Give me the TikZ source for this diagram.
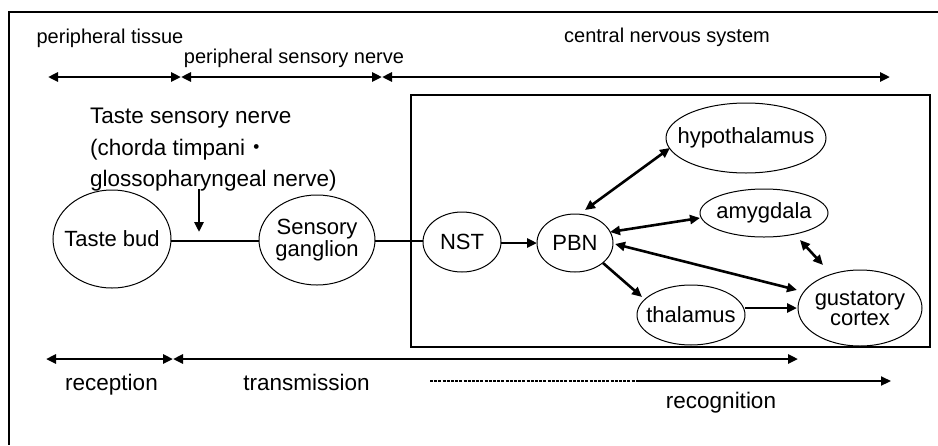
\documentclass[tikz,border=0pt]{standalone}
\usepackage{fontspec}
\setmainfont{Liberation Sans}
\newfontfamily\cjk{Noto Sans CJK JP}
\usetikzlibrary{arrows.meta,shapes.geometric}
\begin{document}
\begin{tikzpicture}[x=1pt,y=-1pt,
  ell/.style={draw,ellipse,line width=1pt,inner sep=0pt},
  lab/.style={font=\fontsize{22}{20}\selectfont,align=center,inner sep=0pt},
  toplab/.style={font=\fontsize{20}{24}\selectfont,inner sep=0pt,anchor=base},
  biglab/.style={font=\fontsize{22.5}{27}\selectfont,inner sep=0pt},
  conn/.style={line width=2.6pt},
  tip/.style={-{Triangle[length=10pt,width=9pt]}},
  dtip/.style={{Triangle[length=10pt,width=9pt]}-{Triangle[length=10pt,width=9pt]}}
]
\useasboundingbox (0,0) rectangle (938,445);
% outer frame (cropped)
\draw[line width=1.1pt] (938,12) -- (9,12) -- (9,445);
% inner box
\draw[line width=1.1pt] (411,95) rectangle (930,347);

% top labels
\node[toplab] (ptis) at (110,43) {peripheral tissue};
\node[toplab] (psn) at (294,63) {peripheral sensory nerve};
\node[toplab] (cns) at (667,42) {central nervous system};
\coordinate (t0) at (48,77);
\coordinate (t1) at (181,77);
\coordinate (t2) at (382,77);
\coordinate (t3) at (890,77);
\draw[conn,dtip] (t0) -- (t1);
\draw[conn,dtip] (t1) -- (t2);
\draw[conn,dtip] (t2) -- (t3);

% taste sensory nerve text
\node[biglab,anchor=base west] (n1) at (90,123) {Taste sensory nerve};
\node[biglab,anchor=base west] (n2) at (90,155) {(chorda timpani{\cjk ・}};
\node[biglab,anchor=base west] (n3) at (90,186) {glossopharyngeal nerve)};
\coordinate (d0) at (199,189);
\coordinate (d1) at (199,232);
\draw[conn,tip] (d0) -- (d1);

% nodes
\node[ell,minimum width=118pt,minimum height=98pt,label={[lab]center:Taste bud}] (bud) at (112,239) {};
\node[ell,minimum width=116pt,minimum height=90pt,label={[lab]center:Sensory\\ganglion}] (gang) at (317,240) {};
\node[ell,minimum width=78pt,minimum height=60pt,label={[lab]center:NST}] (nst) at (462,242) {};
\node[ell,minimum width=76pt,minimum height=58pt,label={[lab]center:PBN}] (pbn) at (575,243) {};
\node[ell,minimum width=160pt,minimum height=70pt,label={[lab]center:hypothalamus}] (hyp) at (746,138) {};
\node[ell,minimum width=128pt,minimum height=48pt,label={[lab]center:amygdala}] (amy) at (764,213) {};
\node[ell,minimum width=124pt,minimum height=76pt,label={[lab]center:gustatory\\cortex}] (gus) at (860,308) {};
\node[ell,minimum width=108pt,minimum height=60pt,label={[lab]center:thalamus}] (thal) at (691,315) {};

% connectors
\draw[conn] ([shift={(59,2)}]bud.center) -- ([shift={(-58,1)}]gang.center);
\draw[conn] ([shift={(58,1)}]gang.center) -- ([shift={(-39,-1)}]nst.center);
\draw[conn,tip] ([shift={(39,1)}]nst.center) -- ([shift={(-38,0)}]pbn.center);
\draw[conn,dtip] ([shift={(10,-33)}]pbn.center) -- ([shift={(-76,10)}]hyp.center);
\draw[conn,dtip] ([shift={(35,-11)}]pbn.center) -- ([shift={(-64,5)}]amy.center);
\draw[conn,dtip] ([shift={(40,1)}]pbn.center) -- ([shift={(-63,-18)}]gus.center);
\draw[conn,dtip] ([shift={(36,27)}]amy.center) -- ([shift={(-37,-43)}]gus.center);
\draw[conn,tip] ([shift={(28,20)}]pbn.center) -- ([shift={(-49,-18)}]thal.center);
\draw[conn,tip] ([shift={(54,-7)}]thal.center) -- ([shift={(-63,0)}]gus.center);

% bottom rows
\coordinate (b0) at (46,359);
\coordinate (b1) at (173,359);
\coordinate (b2) at (798,359);
\draw[conn,dtip] (b0) -- (b1);
\draw[conn,dtip] (b1) -- (b2);
\node[biglab,anchor=base] (rec) at (111.5,390) {reception};
\node[biglab,anchor=base] (tra) at (306.5,390) {transmission};
\coordinate (r0) at (430,381);
\coordinate (r1) at (639,381);
\coordinate (r2) at (891,381);
\draw[line width=1.3pt,dash pattern=on 3pt off 1.2pt] (r0) -- (r1);
\draw[line width=2.2pt,tip] (r1) -- (r2);
\node[biglab,anchor=base] (recog) at (721,408) {recognition};
\end{tikzpicture}
\end{document}
